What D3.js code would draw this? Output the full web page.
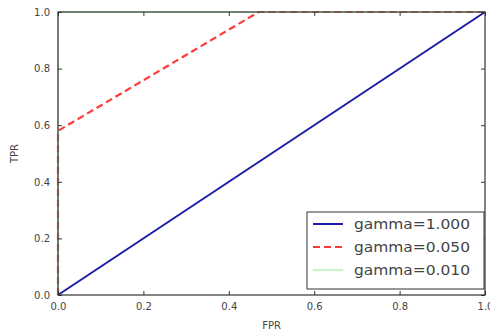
<!DOCTYPE html>
<html><head><meta charset="utf-8">
<script src="https://cdn.jsdelivr.net/npm/d3@7"></script>
<style>body{margin:0;background:#fff}svg{display:block}text{font-family:"DejaVu Sans",sans-serif}</style>
</head><body><svg id="c" width="490" height="332"></svg>
<script>
const seriesNames = ["gamma=1.000", "gamma=0.050", "gamma=0.010"];
const fpr1 = [0, 1];
const tpr1 = [0, 1];
const fpr2 = [0, 0, 0.47, 1];
const tpr2 = [0, 0.58, 1, 1];
const fpr3 = [0, 0, 1];
const tpr3 = [0, 1, 1];
const xTicks = [0, 0.2, 0.4, 0.6, 0.8, 1.0];
const yTicks = [0, 0.2, 0.4, 0.6, 0.8, 1.0];

const svg = d3.select("#c");
const L = 58, R = 485, T = 12, B = 295;
const x = d3.scaleLinear().domain([0, 1]).range([L, R]);
const y = d3.scaleLinear().domain([0, 1]).range([B, T]);

const series = [
  {name: seriesNames[0], xs: fpr1, ys: tpr1, color: "#1c1ca8", w: 2, dash: null},
  {name: seriesNames[1], xs: fpr2, ys: tpr2, color: "#ff3a3a", w: 2.2, dash: "7,4"},
  {name: seriesNames[2], xs: fpr3, ys: tpr3, color: "#a8eaa8", w: 1.2, dash: null}
];

const line = d3.line().x(d => x(d[0])).y(d => y(d[1]));
const g = svg.append("g");
series.forEach(s => {
  const pts = s.xs.map((v, i) => [v, s.ys[i]]);
  g.append("path").attr("d", line(pts)).attr("fill", "none")
    .attr("stroke", s.color).attr("stroke-width", s.w)
    .attr("stroke-dasharray", s.dash);
});

svg.append("rect").attr("x", L).attr("y", T).attr("width", R - L).attr("height", B - T)
  .attr("fill", "none").attr("stroke", "#333").attr("stroke-width", 1.2);

const fmt = d3.format(".1f");
const ax = svg.append("g").attr("transform", `translate(0,${B})`)
  .call(d3.axisBottom(x).tickValues(xTicks).tickFormat(fmt).tickSizeInner(-4).tickSizeOuter(0).tickPadding(8));
const axT = svg.append("g").attr("transform", `translate(0,${T})`)
  .call(d3.axisTop(x).tickValues(xTicks).tickFormat("").tickSizeInner(-4).tickSizeOuter(0));
const ay = svg.append("g").attr("transform", `translate(${L},0)`)
  .call(d3.axisLeft(y).tickValues(yTicks).tickFormat(fmt).tickSizeInner(-4).tickSizeOuter(0).tickPadding(8));
const ayR = svg.append("g").attr("transform", `translate(${R},0)`)
  .call(d3.axisRight(y).tickValues(yTicks).tickFormat("").tickSizeInner(-4).tickSizeOuter(0));
[ax, axT, ay, ayR].forEach(a => {
  a.select(".domain").remove();
  a.selectAll("line").attr("stroke", "#333");
  a.selectAll("text").attr("font-size", 10).attr("fill", "#444")
    .style("font-family", '"DejaVu Sans",sans-serif');
});

svg.append("text").attr("x", (L + R) / 2).attr("y", 329).attr("text-anchor", "middle")
  .attr("font-size", 10).attr("fill", "#444").text("FPR");
svg.append("text").attr("transform", `translate(18,${(T + B) / 2}) rotate(-90)`)
  .attr("text-anchor", "middle").attr("font-size", 10).attr("fill", "#444").text("TPR");

const lg = svg.append("g");
lg.append("rect").attr("x", 307).attr("y", 212).attr("width", 177).attr("height", 77)
  .attr("fill", "#fff").attr("stroke", "#333").attr("stroke-width", 1);
series.forEach((s, i) => {
  const yy = 224 + i * 23;
  lg.append("line").attr("x1", 313).attr("x2", 343).attr("y1", yy).attr("y2", yy)
    .attr("stroke", s.color).attr("stroke-width", s.w).attr("stroke-dasharray", s.dash);
  lg.append("text").attr("x", 354).attr("y", yy + 5).attr("font-size", 14).attr("fill", "#444")
    .attr("textLength", 116).attr("lengthAdjust", "spacingAndGlyphs").text(s.name);
});
</script></body></html>
